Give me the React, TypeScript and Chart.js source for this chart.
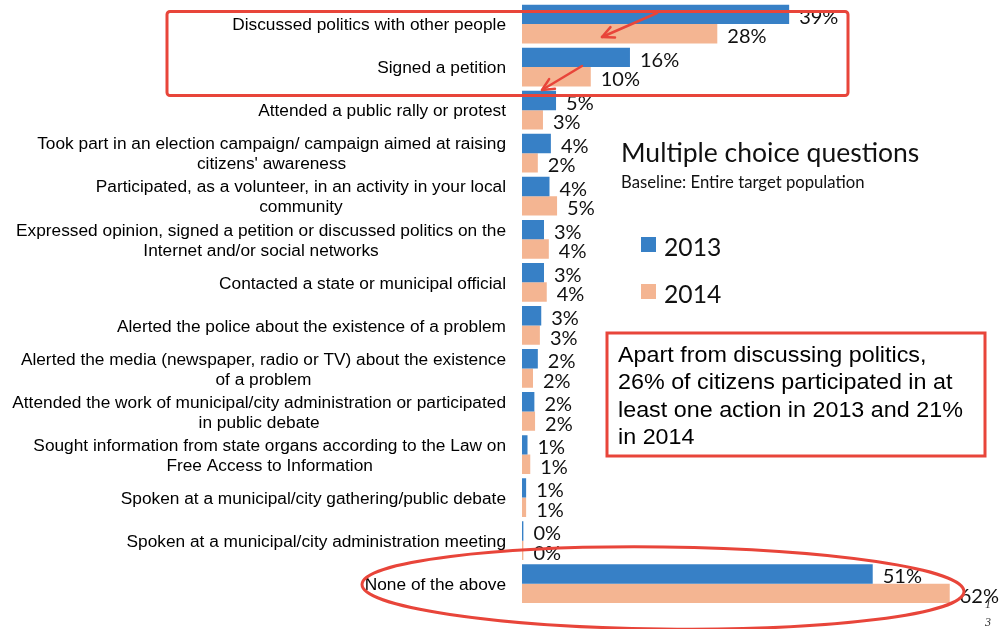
import React, { useEffect, useRef } from "react";
import { Chart, registerables } from "chart.js";

Chart.register(...registerables);

const categories: string[][] = [
  ["Discussed politics with other people"],
  ["Signed a petition"],
  ["Attended a public rally or protest"],
  ["Took part in an election campaign/ campaign aimed at raising", "citizens' awareness"],
  ["Participated, as a volunteer, in an activity in your local", "community"],
  ["Expressed opinion, signed a petition or discussed politics on the", "Internet and/or social networks"],
  ["Contacted a state or municipal official"],
  ["Alerted the police about the existence of a problem"],
  ["Alerted the media (newspaper, radio or TV) about the existence", "of a problem"],
  ["Attended the work of municipal/city administration or participated", "in public debate"],
  ["Sought information from state organs according to the Law on", "Free Access to Information"],
  ["Spoken at a municipal/city gathering/public debate"],
  ["Spoken at a municipal/city administration meeting"],
  ["None of the above"],
];

const values2013 = [38.85, 15.7, 4.95, 4.2, 4.0, 3.2, 3.2, 2.8, 2.3, 1.8, 0.8, 0.6, 0.2, 51];
const values2014 = [28.4, 10.0, 3.05, 2.3, 5.1, 3.9, 3.6, 2.6, 1.6, 1.9, 1.2, 0.6, 0.2, 62.2];
const seriesNames = ["2013", "2014"];

const titleText = "Multiple choice questions";
const subtitleText = "Baseline: Entire target population";
const noteLines = [
  "Apart from discussing politics,",
  "26% of citizens participated in at",
  "least one action in 2013 and 21%",
  "in 2014",
];

const BLUE = "#3780c6";
const SALMON = "#f4b592";
const RED = "#e8453a";

function arrow(ctx: CanvasRenderingContext2D, x1: number, y1: number, x2: number, y2: number) {
  const ang = Math.atan2(y2 - y1, x2 - x1);
  const len = 13;
  ctx.beginPath();
  ctx.moveTo(x1, y1);
  ctx.lineTo(x2, y2);
  ctx.stroke();
  ctx.beginPath();
  ctx.moveTo(x2 - len * Math.cos(ang - 0.45), y2 - len * Math.sin(ang - 0.45));
  ctx.lineTo(x2, y2);
  ctx.lineTo(x2 - len * Math.cos(ang + 0.45), y2 - len * Math.sin(ang + 0.45));
  ctx.stroke();
}

const overlayPlugin = {
  id: "overlay",
  afterDatasetsDraw(chart: any) {
    const ctx: CanvasRenderingContext2D = chart.ctx;
    const yScale = chart.scales.y;
    const xScale = chart.scales.x;
    ctx.save();

    // category labels
    ctx.fillStyle = "#000";
    ctx.font = '17.3px "Liberation Sans", Arial, sans-serif';
    ctx.textBaseline = "middle";
    const rightX = 506;
    categories.forEach((lines, i) => {
      const cy = yScale.getPixelForValue(i) + 1.5;
      if (lines.length === 1) {
        ctx.textAlign = "right";
        ctx.fillText(lines[0], rightX, cy);
      } else {
        const w1 = ctx.measureText(lines[0]).width;
        const center = rightX - w1 / 2;
        ctx.textAlign = "right";
        ctx.fillText(lines[0], rightX, cy - 10);
        ctx.textAlign = "center";
        ctx.fillText(lines[1], center, cy + 10);
      }
    });

    // value labels
    ctx.font = '20px Lato, sans-serif';
    ctx.textAlign = "left";
    ctx.fillStyle = "#111";
    chart.data.datasets.forEach((ds: any, di: number) => {
      const meta = chart.getDatasetMeta(di);
      meta.data.forEach((bar: any, i: number) => {
        const v = ds.data[i];
        const x = xScale.getPixelForValue(v) + 10;
        ctx.fillText(Math.round(v) + "%", x, bar.y + 3);
      });
    });

    // title texts
    ctx.fillStyle = "#111";
    ctx.font = '26.5px Lato, sans-serif';
    ctx.textBaseline = "alphabetic";
    ctx.fillText(titleText, 621, 162);
    ctx.font = '16.7px Lato, sans-serif';
    ctx.fillText(subtitleText, 621, 188);

    // legend
    const colors = [BLUE, SALMON];
    const legendY = [245, 292];
    seriesNames.forEach((name, i) => {
      ctx.fillStyle = colors[i];
      ctx.fillRect(641, legendY[i] - 8, 15, 15);
      ctx.fillStyle = "#111";
      ctx.font = '24.7px Lato, sans-serif';
      ctx.textBaseline = "middle";
      ctx.fillText(name, 664, legendY[i] + 3);
    });

    // note box
    ctx.strokeStyle = RED;
    ctx.lineWidth = 3;
    ctx.strokeRect(607, 333, 378, 123);
    ctx.fillStyle = "#000";
    ctx.font = '22px "Liberation Sans", Arial, sans-serif';
    ctx.textBaseline = "middle";
    noteLines.forEach((ln, i) => {
      ctx.save();
      ctx.translate(618, 356 + i * 27.4);
      ctx.scale(1.06, 1);
      ctx.fillText(ln, 0, 0);
      ctx.restore();
    });

    // highlight rectangle
    ctx.strokeStyle = RED;
    ctx.lineWidth = 3;
    ctx.beginPath();
    (ctx as any).roundRect(167, 11.5, 681, 84, 3);
    ctx.stroke();

    // arrows
    ctx.lineWidth = 2.5;
    ctx.lineCap = "round";
    ctx.lineJoin = "round";
    arrow(ctx, 657, 13, 602, 37);
    arrow(ctx, 582, 66, 542, 90);

    // ellipse
    ctx.lineWidth = 3;
    ctx.beginPath();
    ctx.ellipse(663, 588, 301, 41, 0.012, 0, Math.PI * 2);
    ctx.stroke();

    // page number
    ctx.fillStyle = "#333";
    ctx.font = 'italic 12px "Liberation Serif", serif';
    ctx.textAlign = "center";
    ctx.fillText("1", 988, 605);
    ctx.fillText("3", 988, 623);

    ctx.restore();
  },
};

export default function App() {
  const ref = useRef<HTMLCanvasElement>(null);
  useEffect(() => {
    const canvas = ref.current!;
    const chart = new Chart(canvas, {
      type: "bar",
      data: {
        labels: categories.map((c) => c.join(" ")),
        datasets: [
          { label: seriesNames[0], data: values2013, backgroundColor: BLUE, borderWidth: 0 },
          { label: seriesNames[1], data: values2014, backgroundColor: SALMON, borderWidth: 0 },
        ],
      },
      options: {
        indexAxis: "y",
        responsive: false,
        animation: false,
        devicePixelRatio: 1,
        layout: { padding: { left: 522, right: 0, top: 2.5, bottom: 23.8 } },
        datasets: { bar: { categoryPercentage: 0.9, barPercentage: 1.0 } },
        scales: {
          x: { display: false, min: 0, max: 69.8 },
          y: { display: false },
        },
        plugins: { legend: { display: false }, tooltip: { enabled: false } },
      },
      plugins: [overlayPlugin],
    } as any);
    const fonts = ['15px "Liberation Sans"', "20px Lato", 'italic 10px "Liberation Serif"'];
    Promise.all(fonts.map((f) => (document as any).fonts.load(f))).then(() => chart.draw()).catch(() => {});
    return () => chart.destroy();
  }, []);
  return (
    <div style={{ position: "fixed", left: 0, top: 0, width: 1002, height: 629, background: "#fff" }}>
      <canvas ref={ref} width={1002} height={629} style={{ display: "block", width: 1002, height: 629 }} />
    </div>
  );
}
